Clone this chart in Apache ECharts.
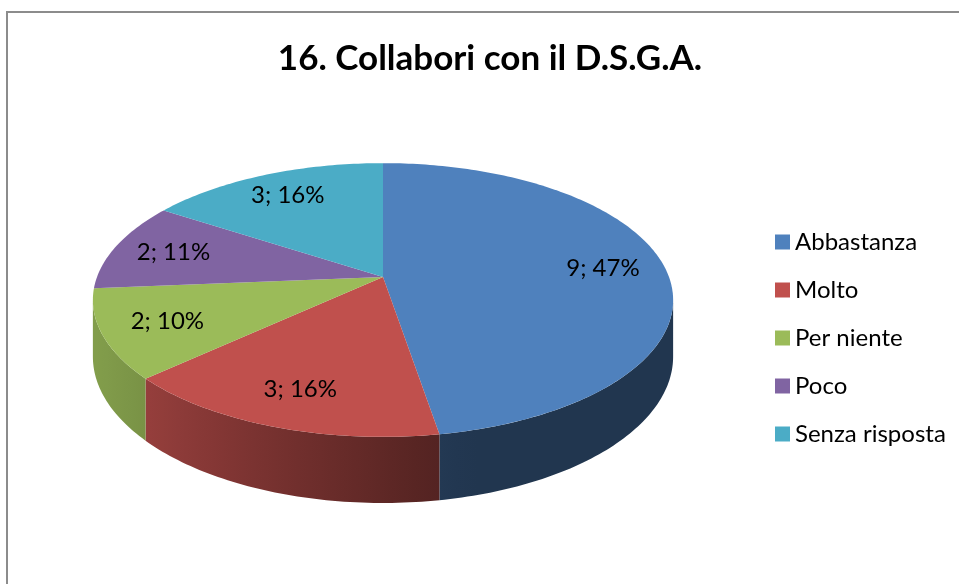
<!DOCTYPE html>
<html>
<head>
<meta charset="utf-8">
<script src="https://cdn.jsdelivr.net/npm/echarts@6/dist/echarts.min.js"></script>
<style>
html, body { margin: 0; padding: 0; background: #fff; }
#chart { width: 959px; height: 584px; }
</style>
</head>
<body>
<div id="chart"></div>
<script>
const categories = ['Abbastanza', 'Molto', 'Per niente', 'Poco', 'Senza risposta']
const counts = [9, 3, 2, 2, 3]
const percents = [47, 16, 10, 11, 16]
const colors = ['#4F81BD', '#C0504D', '#9BBB59', '#8064A2', '#4BACC6']

// torta 3D: ellisse con un po' di prospettiva
const CX = 383, CY = 277, RX = 286, RY = 133, K = 0.168, DEPTH = 55
const FONT = 'Lato'
// angoli dove il bordo laterale smette di essere visibile
const EDGE_R = Math.acos(-K) * 180 / Math.PI
const EDGE_L = 360 - EDGE_R

const total = counts.reduce((s, v) => s + v, 0)
const starts = []
let acc = 0
counts.forEach(v => { starts.push(acc / total * 360); acc += v })

function project(r, deg) {
  const t = deg * Math.PI / 180
  const u = r * Math.sin(t)
  const v = -r * Math.cos(t)
  const w = 1 - K * v
  return [CX + RX * u / w, CY + RY * v / w, DEPTH / w]
}

function shade(hex, f) {
  const n = parseInt(hex.slice(1), 16)
  const c = [(n >> 16) & 255, (n >> 8) & 255, n & 255].map(x => Math.round(x * f))
  return 'rgb(' + c.join(',') + ')'
}

// luce da sinistra sul bordo
function wallFactor(deg) {
  const c = Math.max(0, Math.cos((deg - 255) * Math.PI / 180))
  return 0.42 + 0.42 * Math.pow(c, 1.3)
}

function renderSlice(i) {
  return function (params, api) {
    const a0 = starts[i]
    const a1 = a0 + api.value(0) / total * 360
    const top = [[CX, CY]]
    for (let d = a0; d < a1; d += 1) top.push(project(1, d).slice(0, 2))
    top.push(project(1, a1).slice(0, 2))

    const children = [{
      type: 'polygon', z2: 10,
      shape: { points: top },
      style: { fill: colors[i] }
    }]

    const w0 = Math.max(a0, EDGE_R), w1 = Math.min(a1, EDGE_L)
    if (w1 > w0) {
      const upper = [], lower = [], angs = []
      for (let d = w0; d < w1; d += 1) angs.push(d)
      angs.push(w1)
      angs.forEach(d => {
        const p = project(1, d)
        upper.push([p[0], p[1]])
        lower.push([p[0], p[1] + p[2]])
      })
      const xs = upper.map(p => p[0])
      const xmin = Math.min(...xs), xmax = Math.max(...xs)
      const stops = angs.filter((d, j) => j % 4 === 0 || j === angs.length - 1).map(d => ({
        offset: (project(1, d)[0] - xmin) / Math.max(1, xmax - xmin),
        color: shade(colors[i], wallFactor(d))
      })).sort((p, q) => p.offset - q.offset)
      children.push({
        type: 'polygon', z2: 1,
        shape: { points: upper.concat(lower.reverse()) },
        style: {
          fill: { type: 'linear', x: xmin, y: 0, x2: xmax, y2: 0, global: true, colorStops: stops }
        }
      })
    }

    const lp = project(0.78, (a0 + a1) / 2)
    children.push({
      type: 'text', z2: 20,
      x: lp[0], y: lp[1],
      style: {
        text: api.value(0) + '; ' + percents[i] + '%',
        align: 'center', verticalAlign: 'middle',
        fontFamily: FONT, fontSize: 24, fill: '#000'
      }
    })
    return { type: 'group', children: children }
  }
}

const chart = echarts.init(document.getElementById('chart'))
chart.setOption({
  animation: false,
  color: colors,
  title: {
    text: '16. Collabori con il D.S.G.A.',
    left: 490,
    top: 41,
    padding: 0,
    textAlign: 'center',
    textStyle: { fontFamily: FONT, fontWeight: 'bold', fontSize: 35, color: '#000' }
  },
  legend: {
    data: categories,
    orient: 'vertical',
    left: 770,
    top: 222,
    icon: 'rect',
    itemWidth: 15,
    itemHeight: 15,
    itemGap: 18,
    textStyle: { fontFamily: FONT, fontSize: 24, color: '#000', lineHeight: 30 }
  },
  graphic: [{
    type: 'rect',
    shape: { x: 7, y: 12, width: 1000, height: 700 },
    style: { fill: 'none', stroke: '#8c8c8c', lineWidth: 2 },
    silent: true
  }],
  series: categories.map((name, i) => ({
    type: 'custom',
    name: name,
    coordinateSystem: 'none',
    itemStyle: { color: colors[i] },
    renderItem: renderSlice(i),
    data: [[counts[i]]]
  }))
})
</script>
</body>
</html>
